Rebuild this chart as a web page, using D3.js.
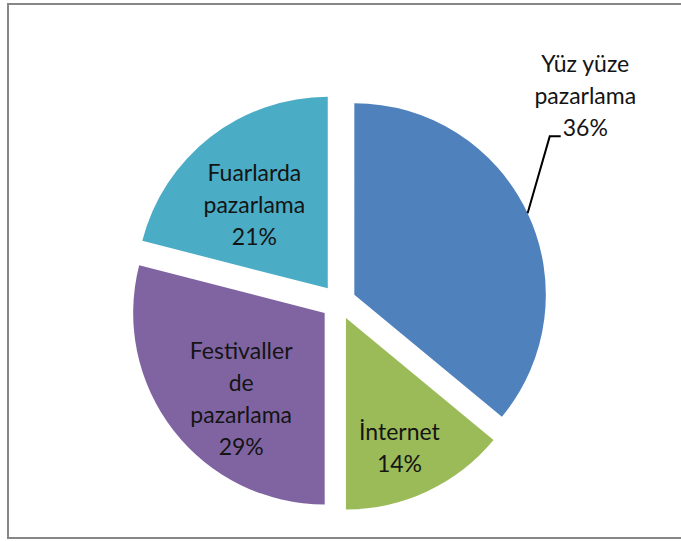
<!DOCTYPE html>
<html>
<head>
<meta charset="utf-8">
<script src="https://cdn.jsdelivr.net/npm/d3@7"></script>
<style>
  html, body { margin: 0; padding: 0; background: #ffffff; }
  svg { display: block; }
  text { font-family: Lato, "Open Sans", sans-serif; fill: #141414; }
</style>
</head>
<body>
<svg id="chart" width="681" height="541"></svg>
<script>
// Pazarlama kanalları dağılımı (%)
const categories = ["Yüz yüze pazarlama", "İnternet", "Festivaller de pazarlama", "Fuarlarda pazarlama"];
const labelLines = [["Yüz yüze", "pazarlama"], ["İnternet"], ["Festivaller", "de", "pazarlama"], ["Fuarlarda", "pazarlama"]];
const values = [36, 14, 29, 21];
const colors = ["#4F81BD", "#9BBB59", "#8064A2", "#4BACC6"];

const W = 681, H = 541;
const cx = 338.5, cy = 302.2;
const radius = 191.5;
const explode = 17.5;
const fontSize = 23;
const lineH = 32;

// Label placement: rotation from the slice bisector (deg) and distance as a share of the radius
const labelPlacement = [
  { turn: -14.3, dist: 1.563, leader: true },
  { turn: 4.0, dist: 0.773 },
  { turn: -10.7, dist: 0.658 },
  { turn: -6.5, dist: 0.549 }
];

const svg = d3.select("#chart");

// Frame
svg.append("rect")
  .attr("x", 8).attr("y", 4)
  .attr("width", 690).attr("height", 534)
  .attr("fill", "none")
  .attr("stroke", "#878787")
  .attr("stroke-width", 2);

const pie = d3.pie().sort(null).value(d => d)(values);
const arc = d3.arc().innerRadius(0).outerRadius(radius);

const polar = (angle, r) => [Math.sin(angle) * r, -Math.cos(angle) * r];

const g = svg.append("g").attr("transform", `translate(${cx},${cy})`);

const slices = g.selectAll("g.slice")
  .data(pie)
  .join("g")
  .attr("class", "slice")
  .attr("transform", d => {
    const mid = (d.startAngle + d.endAngle) / 2;
    const [dx, dy] = polar(mid, explode);
    return `translate(${dx},${dy})`;
  });

slices.append("path")
  .attr("d", arc)
  .attr("fill", (d, i) => colors[i]);

const fmt = d3.format(".0%");

slices.each(function (d, i) {
  const sel = d3.select(this);
  const p = labelPlacement[i];
  const mid = (d.startAngle + d.endAngle) / 2;
  const ang = mid + p.turn * Math.PI / 180;
  const [lx, ly] = polar(ang, p.dist * radius);
  const lines = labelLines[i].concat([fmt(d.data / 100)]);
  const n = lines.length;
  const text = sel.append("text")
    .attr("text-anchor", "middle")
    .attr("font-size", fontSize);
  lines.forEach((ln, k) => {
    text.append("tspan")
      .attr("x", lx)
      .attr("y", ly + (k - (n - 1) / 2) * lineH)
      .text(ln);
  });

  if (p.leader) {
    const lastBaseline = ly + ((n - 1) / 2) * lineH;
    const pctNode = text.selectAll("tspan").nodes()[n - 1];
    const pctW = pctNode.getComputedTextLength();
    const endX = lx - pctW / 2 - 2;
    const [sx, sy] = polar(mid, radius);
    sel.append("path")
      .attr("d", `M${sx},${sy} L${endX - 11},${lastBaseline} L${endX},${lastBaseline}`)
      .attr("fill", "none")
      .attr("stroke", "#000")
      .attr("stroke-width", 2);
  }
});
</script>
</body>
</html>
